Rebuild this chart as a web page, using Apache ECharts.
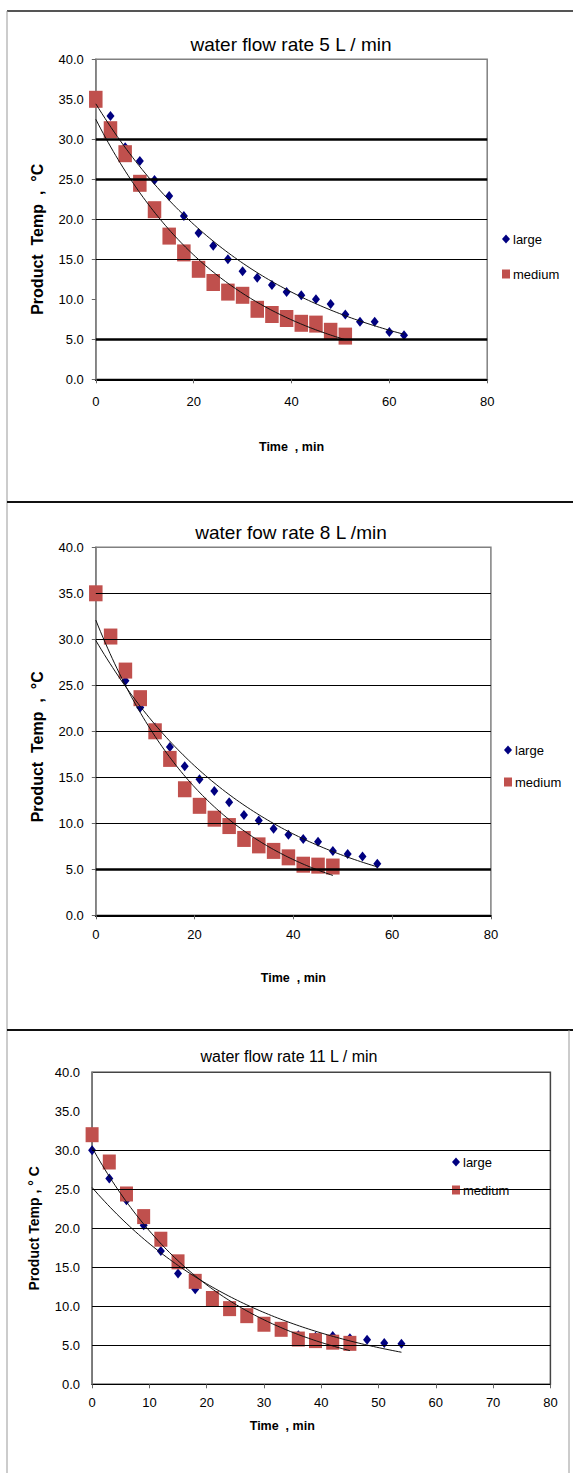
<!DOCTYPE html>
<html>
<head>
<meta charset="utf-8">
<script src="https://cdn.jsdelivr.net/npm/echarts@6/dist/echarts.min.js"></script>
<style>
html,body{margin:0;padding:0;background:#fff;}
#c{width:573px;height:1473px;}
</style>
</head>
<body>
<div id="c"></div>
<script>
// ---------- data ----------
const titles = ['water flow rate 5 L / min', 'water fow rate 8 L /min', 'water flow rate 11 L / min'];
const xTitle = 'Time  , min';
const yTitles = ['Product  Temp  ,  °C', 'Product  Temp  ,  °C', 'Product Temp , ° C'];
const seriesNames = ['large', 'medium'];

// panel 1 : 5 L/min
const time1Large = [0,3,6,9,12,15,18,21,24,27,30,33,36,39,42,45,48,51,54,57,60,63];
const temp1Large = [35.0,32.9,29.0,27.3,24.9,22.9,20.4,18.3,16.7,15.0,13.5,12.7,11.8,10.9,10.5,10.0,9.4,8.1,7.2,7.2,5.9,5.5];
const time1Medium = [0,3,6,9,12,15,18,21,24,27,30,33,36,39,42,45,48,51];
const temp1Medium = [35.0,31.2,28.2,24.5,21.2,17.9,15.8,13.75,12.1,10.9,10.5,8.75,8.1,7.6,7.0,6.9,6.0,5.4];

// panel 2 : 8 L/min
const time2Large = [0,3,6,9,12,15,18,21,24,27,30,33,36,39,42,45,48,51,54,57];
const temp2Large = [35.0,30.2,25.5,22.6,20.4,18.3,16.2,14.8,13.5,12.3,10.9,10.3,9.4,8.75,8.3,8.0,7.0,6.65,6.4,5.6];
const time2Medium = [0,3,6,9,12,15,18,21,24,27,30,33,36,39,42,45,48];
const temp2Medium = [35.0,30.3,26.6,23.6,20.0,17.0,13.7,11.9,10.5,9.7,8.3,7.6,7.0,6.3,5.5,5.4,5.3];

// panel 3 : 11 L/min
const time3Large = [0,3,6,9,12,15,18,21,24,27,30,33,36,39,42,45,48,51,54];
const temp3Large = [30.0,26.4,23.6,20.4,17.1,14.2,12.2,11.0,9.8,9.0,8.0,7.3,6.3,6.1,6.2,5.9,5.7,5.3,5.2];
const time3Medium = [0,3,6,9,12,15,18,21,24,27,30,33,36,39,42,45];
const temp3Medium = [32.0,28.5,24.4,21.5,18.6,15.7,13.2,11.0,9.7,8.8,7.7,7.05,5.8,5.6,5.4,5.25];

// axis ticks
const yTicks = [0,5,10,15,20,25,30,35,40];
const xMax = 80;
const xSteps = [20, 20, 10];
// horizontal rules visible in each panel, and which of them are heavy
const rules = [[30,25,20,15,5],[35,30,25,20,15,10,5],[30,25,20,15,10,5]];
const heavyRules = [[30,25,5],[5],[]];

// ---------- helpers ----------
const FONT = "'Liberation Sans', Arial, sans-serif";
// Excel-style exponential trendline: least squares on ln(y)
function expFit(xs, ys) {
  const n = xs.length;
  let sx = 0, sy = 0, sxx = 0, sxy = 0;
  for (let i = 0; i < n; i++) {
    const ly = Math.log(ys[i]);
    sx += xs[i]; sy += ly; sxx += xs[i] * xs[i]; sxy += xs[i] * ly;
  }
  const b = (n * sxy - sx * sy) / (n * sxx - sx * sx);
  const a = (sy - b * sx) / n;
  const x0 = xs[0], x1 = xs[n - 1], pts = [];
  for (let k = 0; k <= 100; k++) {
    const x = x0 + (x1 - x0) * k / 100;
    pts.push([x, Math.exp(a + b * x)]);
  }
  return pts;
}
const zip = (xs, ys) => xs.map((x, i) => [x, ys[i]]);

const panels = [
  { L: [time1Large, temp1Large], M: [time1Medium, temp1Medium],
    grid: { left: 95.8, top: 59.3, width: 391.4, height: 320 },
    titleX: 291, titleTop: 35, titleSize: 19,
    legend: { left: 502, top: 231, gap: 19 },
    sq: [13.5, 17], dm: [8, 10],
    xNameGap: 61, xNamePad: [0,0,0,0], yNamePad: [0,40,0,0], yNameGap: 50, yNameSize: 16,
    xLabelMargin: 16, frame: '#808080', xLineW: 2, yTickShow: true },
  { L: [time2Large, temp2Large], M: [time2Medium, temp2Medium],
    grid: { left: 95.8, top: 547.3, width: 395.1, height: 368 },
    titleX: 291, titleTop: 523, titleSize: 19,
    legend: { left: 504, top: 742, gap: 16 },
    sq: [13.5, 16], dm: [8, 10],
    xNameGap: 56, xNamePad: [0,0,0,0], yNamePad: [0,31,0,0], yNameGap: 50, yNameSize: 16,
    xLabelMargin: 13, frame: '#808080', xLineW: 2, yTickShow: true },
  { L: [time3Large, temp3Large], M: [time3Medium, temp3Medium],
    grid: { left: 92.1, top: 1072.3, width: 458.3, height: 312 },
    titleX: 289, titleTop: 1048, titleSize: 16,
    legend: { left: 452, top: 1154, gap: 12 },
    sq: [13, 15], dm: [8, 10],
    xNameGap: 35, xNamePad: [0,78,0,0], yNamePad: [0,0,0,0], yNameGap: 51, yNameSize: 14,
    xLabelMargin: 12, frame: '#444', xLineW: 1.2, yTickShow: false }
];

const option = {
  animation: false,
  backgroundColor: '#fff',
  title: [], legend: [], grid: [], xAxis: [], yAxis: [], series: [],
  graphic: [
    { type: 'line', shape: { x1: 7, y1: 11, x2: 573, y2: 11 }, style: { stroke: '#555', lineWidth: 2 } },
    { type: 'line', shape: { x1: 7, y1: 11, x2: 7, y2: 1473 }, style: { stroke: '#999', lineWidth: 1 } },
    { type: 'line', shape: { x1: 7, y1: 502, x2: 573, y2: 502 }, style: { stroke: '#111', lineWidth: 2 } },
    { type: 'line', shape: { x1: 7, y1: 1030, x2: 573, y2: 1030 }, style: { stroke: '#111', lineWidth: 2 } },
    { type: 'line', shape: { x1: 569, y1: 1030, x2: 569, y2: 1473 }, style: { stroke: '#999', lineWidth: 1 } }
  ]
};

panels.forEach((p, i) => {
  option.title.push({
    text: titles[i], left: p.titleX, top: p.titleTop, textAlign: 'center', padding: 0,
    textStyle: { fontFamily: FONT, fontSize: p.titleSize, fontWeight: 'normal', color: '#000' }
  });
  option.legend.push({
    data: seriesNames, orient: 'vertical', left: p.legend.left, top: p.legend.top,
    itemGap: p.legend.gap, itemWidth: 8, itemHeight: 9, padding: 0, selectedMode: false,
    textStyle: { fontFamily: FONT, fontSize: 13, color: '#000', lineHeight: 16, padding: [0,0,0,-2] }
  });
  option.grid.push(Object.assign({ show: true, borderColor: p.frame, borderWidth: 1.5, backgroundColor: 'transparent' }, p.grid));
  option.xAxis.push({
    gridIndex: i, type: 'value', min: 0, max: xMax, interval: xSteps[i],
    name: xTitle, nameLocation: 'middle', nameGap: p.xNameGap,
    nameTextStyle: { fontFamily: FONT, fontSize: 12.5, fontWeight: 'bold', color: '#000', padding: p.xNamePad },
    axisLine: { show: true, onZero: false, lineStyle: { color: '#000', width: p.xLineW } },
    axisTick: { show: true, length: 4, lineStyle: { color: '#666' } },
    axisLabel: { fontFamily: FONT, fontSize: 13, color: '#000', margin: p.xLabelMargin },
    splitLine: { show: false }
  });
  option.yAxis.push({
    gridIndex: i, type: 'value', min: yTicks[0], max: yTicks[yTicks.length - 1], interval: yTicks[1] - yTicks[0],
    name: yTitles[i], nameLocation: 'middle', nameGap: p.yNameGap,
    nameTextStyle: { fontFamily: FONT, fontSize: p.yNameSize, fontWeight: 'bold', color: '#000', padding: p.yNamePad },
    axisLine: { show: true, lineStyle: { color: '#808080', width: 1.5 } },
    axisTick: { show: p.yTickShow, length: 4, lineStyle: { color: '#666' } },
    axisLabel: { fontFamily: FONT, fontSize: 13, color: '#000', margin: 12, formatter: v => v.toFixed(1) },
    splitLine: { show: false }
  });
  // horizontal rules
  option.series.push({
    type: 'line', xAxisIndex: i, yAxisIndex: i, data: [], z: 1, silent: true,
    markLine: {
      silent: true, symbol: ['none', 'none'], label: { show: false }, animation: false,
      emphasis: { disabled: true },
      lineStyle: { color: '#000', type: 'solid', width: 1 },
      data: rules[i].map(v => ({ yAxis: v, lineStyle: { color: '#000', type: 'solid', width: heavyRules[i].includes(v) ? 2.6 : 1 } }))
    }
  });
  option.series.push({
    name: 'large', type: 'scatter', xAxisIndex: i, yAxisIndex: i, z: 2,
    symbol: 'diamond', symbolSize: p.dm, itemStyle: { color: '#000080', opacity: 1 },
    data: zip(p.L[0], p.L[1])
  });
  option.series.push({
    name: 'medium', type: 'scatter', xAxisIndex: i, yAxisIndex: i, z: 3,
    symbol: 'rect', symbolSize: p.sq, itemStyle: { color: '#C0504D', opacity: 1 },
    data: zip(p.M[0], p.M[1])
  });
  option.series.push({
    name: 'large trend', type: 'line', xAxisIndex: i, yAxisIndex: i, z: 4, silent: true,
    showSymbol: false, symbol: 'none', lineStyle: { color: '#111', width: 1 },
    data: expFit(p.L[0], p.L[1])
  });
  option.series.push({
    name: 'medium trend', type: 'line', xAxisIndex: i, yAxisIndex: i, z: 4, silent: true,
    showSymbol: false, symbol: 'none', lineStyle: { color: '#111', width: 1 },
    data: expFit(p.M[0], p.M[1])
  });
});

const chart = echarts.init(document.getElementById('c'), null, { renderer: 'svg', width: 573, height: 1473 });
chart.setOption(option);
</script>
</body>
</html>
